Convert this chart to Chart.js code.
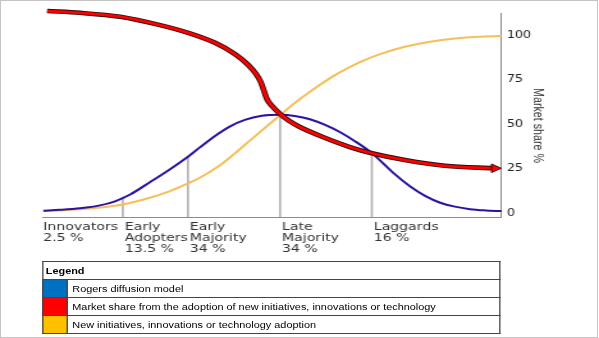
<!DOCTYPE html>
<html>
<head>
<meta charset="utf-8">
<script src="https://cdn.jsdelivr.net/npm/chart.js@4.4.1/dist/chart.umd.min.js"></script>
<style>
  html, body { margin: 0; padding: 0; background: #fff; }
  #frame { position: absolute; left: 0; top: 0; width: 598px; height: 338px; box-sizing: border-box; border: 1px solid #c4c4c4; }
  /* the reference is a horizontally stretched drawing, so the whole thing is built narrow and stretched */
  #wrap { position: absolute; left: 0; top: 0; width: 468px; height: 338px; transform: scaleX(1.28); transform-origin: 0 0; }
  #c { position: absolute; left: 0; top: 0; }
  #legend { position: absolute; left: 32.8px; top: 261px; width: 358.6px; border-collapse: collapse;
            font-family: "Liberation Sans", Arial, sans-serif; font-size: 8.5px; color: #000; }
  #legend td { border: 1px solid #444; height: 17px; padding: 0 0 0 3px; line-height: 10px; }
  #legend td.sw { width: 18.7px; padding: 0; }
  #legend th { border: 1px solid #444; height: 17px; padding: 0 0 0 2px; text-align: left; font-weight: bold; }
</style>
</head>
<body>
<div id="frame"></div>
<div id="wrap">
  <canvas id="c" width="468" height="260"></canvas>
  <table id="legend">
    <tr><th colspan="2">Legend</th></tr>
    <tr><td class="sw" style="background:#0070c0"></td><td>Rogers diffusion model</td></tr>
    <tr><td class="sw" style="background:#ff0000"></td><td>Market share from the adoption of new initiatives, innovations or technology</td></tr>
    <tr><td class="sw" style="background:#ffc000"></td><td>New initiatives, innovations or technology adoption</td></tr>
  </table>
</div>
<script>
// adopter groups (x runs 0..100 across the plot)
const adopterNames  = [["Innovators"], ["Early", "Adopters"], ["Early", "Majority"], ["Late", "Majority"], ["Laggards"]];
const adopterShares = ["2.5 %", "13.5 %", "34 %", "34 %", "16 %"];
const adopterStartX = [0, 17.4, 31.6, 51.7, 71.7];
const dividerTop    = [9.4, 31.8, 55.1, 33.8];

// Rogers bell curve
const rogersX = [0, 3.7, 8.1, 12.4, 15.7, 19.0, 23.3, 27.7, 31.6, 34.2, 37.5, 40.8, 44.0, 47.7, 51.7,
                 54.9, 58.2, 61.5, 64.8, 68.0, 71.7, 74.6, 76.7, 80.0, 83.3, 86.6, 89.8, 93.1, 96.4, 100];
const rogersY = [1.5, 2.0, 2.9, 4.5, 6.8, 10.6, 17.5, 24.8, 31.8, 37.0, 43.4, 48.8, 52.4, 54.7, 55.3,
                 54.6, 52.8, 49.6, 45.5, 40.5, 33.8, 27.0, 22.0, 15.2, 9.8, 6.0, 3.8, 2.4, 1.7, 1.3];

// market share (red, ends in arrow)
const shareX = [0.9, 8.1, 16.8, 25.5, 32.0, 37.5, 41.9, 44.7, 46.4, 47.5, 48.2, 48.8, 49.9, 51.7, 53.8,
                56.0, 61.0, 66.9, 71.7, 78.9, 87.6, 98.5];
const shareY = [113.4, 112.4, 110.2, 105.5, 100.9, 95.6, 89.2, 83.3, 78.3, 73.5, 68.5, 64.2, 60.3, 55.7, 51.6,
                48.4, 42.8, 37.2, 33.7, 29.9, 26.7, 25.3];

// adoption S-curve (orange)
const adoptX = [0, 3.7, 8.1, 12.4, 17.4, 23.3, 27.7, 31.4, 34.2, 38.6, 41.9, 45.1, 48.4, 51.7, 54.9,
                58.2, 61.5, 64.7, 69.1, 73.5, 78.9, 84.4, 89.8, 94.8, 100];
const adoptY = [1.5, 1.7, 2.3, 3.3, 5.0, 8.8, 12.5, 16.6, 20.0, 27.0, 33.8, 40.8, 48.0, 55.1, 61.9,
                68.2, 74.0, 79.0, 84.8, 89.3, 93.4, 96.2, 98.0, 99.0, 99.4];

const yTicks = [0, 25, 50, 75, 100];
const yMin = -2, yMax = 112.3;

const pts = (xs, ys) => xs.map((x, i) => ({x: x, y: ys[i]}));

var dividers = [];
adopterStartX.slice(1).forEach((x, i) => {
  dividers.push({x: x, y: yMin}, {x: x, y: dividerTop[i]}, {x: x, y: null});
});

const textPlugin = {
  id: 'adopterText',
  afterDraw(chart) {
    const ctx = chart.ctx, xs = chart.scales.x, area = chart.chartArea;
    ctx.save();
    ctx.fillStyle = '#333';
    ctx.font = '11px "DejaVu Sans"';
    ctx.textAlign = 'left';
    ctx.textBaseline = 'alphabetic';
    adopterNames.forEach((lines, i) => {
      const px = xs.getPixelForValue(adopterStartX[i]) + (i ? 1.5 : 0.2);
      lines.concat(adopterShares[i]).forEach((t, j) => ctx.fillText(t, px, area.bottom + 13 + j * 11));
    });
    // y axis title, reads top to bottom
    ctx.font = '10.7px "Liberation Sans"';
    ctx.translate(420.3, 125.5);
    ctx.rotate(Math.PI / 2);
    ctx.textAlign = 'center';
    ctx.textBaseline = 'middle';
    ctx.fillText('Market share %', 0, 0);
    ctx.restore();
  }
};

var ctx = document.getElementById('c').getContext('2d');
var chart = new Chart(ctx, {
  type: 'line',
  data: {
    datasets: [{
      data: pts(shareX, shareY),
      borderColor: '#ff0000',
      borderWidth: 2.8,
      cubicInterpolationMode: 'monotone',
      clip: false,
      pointStyle: 'triangle',
      rotation: 90,
      pointRadius: c => c.dataIndex === shareX.length - 1 ? 5 : 0,
      pointBackgroundColor: '#ff0000',
      pointBorderColor: '#3a0a0a',
      pointBorderWidth: 1
    }, {
      data: pts(shareX, shareY),
      borderColor: '#2e0a0a',
      borderWidth: 4.6,
      cubicInterpolationMode: 'monotone',
      clip: false,
      pointRadius: 0
    }, {
      data: pts(rogersX, rogersY),
      borderColor: '#2c12a0',
      borderWidth: 2,
      cubicInterpolationMode: 'monotone',
      pointRadius: 0
    }, {
      data: pts(adoptX, adoptY),
      borderColor: '#f4bf5c',
      borderWidth: 2,
      cubicInterpolationMode: 'monotone',
      pointRadius: 0
    }, {
      data: dividers,
      borderColor: '#b0b0b0',
      borderWidth: 1.6,
      tension: 0,
      spanGaps: false,
      pointRadius: 0
    }]
  },
  options: {
    responsive: false,
    animation: false,
    events: [],
    layout: { padding: { left: 33.6, top: 13, right: 0, bottom: 43 } },
    plugins: { legend: { display: false }, tooltip: { enabled: false } },
    scales: {
      x: {
        type: 'linear',
        min: 0,
        max: 100,
        ticks: { display: false },
        grid: { display: false },
        border: { display: true, color: '#8c8c8c', width: 1 },
        afterFit: s => { s.height = 0; }
      },
      y: {
        position: 'right',
        min: yMin,
        max: yMax,
        afterBuildTicks: s => { s.ticks = yTicks.map(v => ({value: v})); },
        ticks: { padding: 4, color: '#222', font: { family: 'DejaVu Sans', size: 10 } },
        grid: { display: false, drawTicks: false },
        border: { display: true, color: '#8c8c8c', width: 1 },
        afterFit: s => { s.width = 76.1; }
      }
    }
  },
  plugins: [textPlugin]
});
</script>
</body>
</html>
